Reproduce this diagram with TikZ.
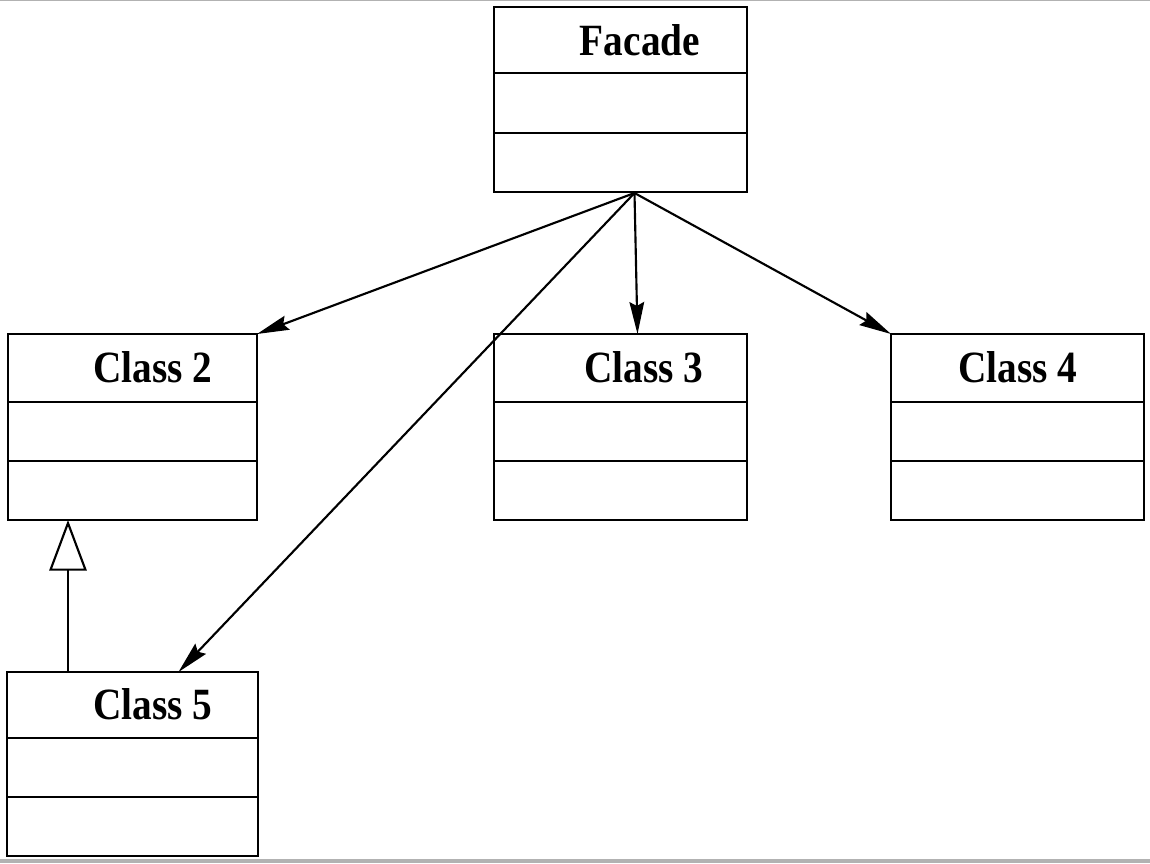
\documentclass[tikz,border=0pt]{standalone}
\usepackage{fontspec}
\newfontfamily\umlfont{Liberation Serif}[FakeStretch=0.88]
\usetikzlibrary{arrows.meta,calc}
\tikzset{
  x=0.75pt, y=-0.75pt,
  classbox/.style={draw, line width=2.2pt, inner sep=0pt, outer sep=0pt, anchor=north west},
  divider/.style={line width=2.2pt},
  classtitle/.style={anchor=base, inner sep=0pt, font=\umlfont\bfseries\fontsize{33.5}{40}\selectfont},
  assoc/.style={line width=1.6pt, -{Stealth[length=24pt, width=11pt, inset=3pt]}},
  inherit/.style={line width=1.6pt, -{Triangle[open, length=38pt, width=28pt, fill=white]}},
  edge/.style={draw=gray!60, line width=2pt}
}
\newcommand{\umlclass}[8]{%
  \node[classbox, minimum width={(#4-#2)*0.75pt}, minimum height={(#5-#3)*0.75pt}] (#1) at (#2,#3) {};
  \draw[divider] ($(#1.north west)+(0,#6)$) -- ($(#1.north east)+(0,#6)$);
  \draw[divider] ($(#1.north west)+(0,#7)$) -- ($(#1.north east)+(0,#7)$);
}
\begin{document}
\begin{tikzpicture}
\useasboundingbox (0,0) rectangle (1150,864);
\fill[white] (0,0) rectangle (1150,864);
\draw[edge, line width=1pt] (0,0.5) -- (1150,0.5);
\draw[edge, line width=2.5pt] (0,861) -- (1150,861);

\umlclass{facade}{494}{7}{747}{192}{66}{126}{}
\node[classtitle] (facadetitle) at (640,55) {Facade};

\umlclass{classtwo}{8}{334}{257}{520}{68}{127}{}
\node[classtitle] (classtwotitle) at (153,382) {Class 2};

\umlclass{classthree}{494}{334}{747}{520}{68}{127}{}
\node[classtitle] (classthreetitle) at (644,382) {Class 3};

\umlclass{classfour}{891}{334}{1144}{520}{68}{127}{}
\node[classtitle] (classfourtitle) at (1018,382) {Class 4};

\umlclass{classfive}{7}{672}{258}{856}{66}{125}{}
\node[classtitle] (classfivetitle) at (153,719) {Class 5};

\coordinate (fout) at ($(facade.south)+(14,1)$);
\coordinate (c3in) at ($(classthree.north)+(17,0)$);
\coordinate (c5in) at ($(classfive.north)+(46,0)$);
\coordinate (c5up) at ($(classfive.north west)+(61,0)$);
\coordinate (c2down) at ($(classtwo.south west)+(60,0)$);

\draw[assoc] (fout) -- (classtwo.north east);
\draw[assoc] (fout) -- (c3in);
\draw[assoc] (fout) -- (classfour.north west);
\draw[assoc] (fout) -- (c5in);
\draw[inherit] (c5up) -- (c2down);
\end{tikzpicture}
\end{document}
